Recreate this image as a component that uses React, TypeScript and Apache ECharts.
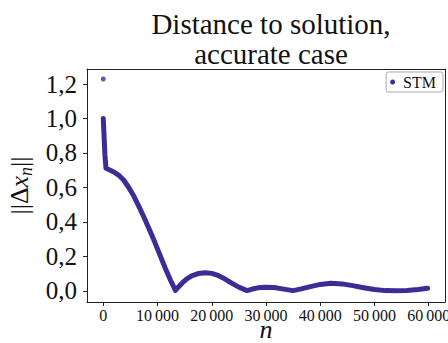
import React, { useEffect, useRef } from "react";
import * as echarts from "echarts";

const titleLines = ["Distance to solution,", "accurate case"];
const seriesName = "STM";
// iteration n and distance ||Δx_n||
const stepN = [
  0, 100, 200, 300, 500, 1000, 1950, 2900, 3790, 4700, 5625, 6540, 7460, 8400,
  9300, 10400, 11450, 12400, 13300, 13900, 14600, 15400, 16300, 17500, 18800,
  20000, 21000, 22000, 23000, 24000, 25000, 26500, 27500, 28500, 30000, 31500,
  33000, 35000, 36500, 38000, 40000, 42000, 44000, 46000, 48000, 50000, 52000,
  54000, 56000, 58000, 59800,
];
const distance = [
  1.0, 0.93, 0.86, 0.79, 0.711, 0.704, 0.69, 0.67, 0.642, 0.6, 0.55, 0.492,
  0.43, 0.364, 0.298, 0.212, 0.13, 0.062, 0.003, 0.025, 0.048, 0.07, 0.088,
  0.101, 0.106, 0.102, 0.092, 0.077, 0.058, 0.04, 0.022, 0.002, 0.011, 0.018,
  0.021, 0.02, 0.012, 0.002, 0.012, 0.024, 0.038, 0.045, 0.041, 0.031, 0.019,
  0.008, 0.002, 0.001, 0.003, 0.009, 0.016,
];
const outlierN = [0];
const outlierDistance = [1.229];
const xTicks = [0, 10000, 20000, 30000, 40000, 50000, 60000];
const yTicks = [0, 0.2, 0.4, 0.6, 0.8, 1.0, 1.2];

const COLOR = "#3a2e96";
const FONT = "'Liberation Serif', 'Times New Roman', serif";
const INK = "#111";
const SPINE = "#222";

export default function App() {
  const ref = useRef<HTMLDivElement>(null);
  useEffect(() => {
    if (!ref.current) return;
    const chart = echarts.init(ref.current, null, { renderer: "svg" });
    const fmtX = (v: number) =>
      String(Math.round(v)).replace(/\B(?=(\d{3})+(?!\d))/g, "\u2009");
    const fmtY = (v: number) => v.toFixed(1).replace(".", ",");
    const xMin = -3000;
    const xMax = 63000;
    const yMin = -0.064;
    const yMax = 1.287;
    const spineOnly = {
      axisLine: { show: true, onZero: false, lineStyle: { color: SPINE, width: 1 } },
      axisTick: { show: false },
      axisLabel: { show: false },
      splitLine: { show: false },
    };
    chart.setOption({
      animation: false,
      backgroundColor: "#fff",
      title: {
        text: titleLines.join("\n"),
        left: 266,
        top: 4,
        textAlign: "center",
        textStyle: {
          fontFamily: FONT,
          fontSize: 29,
          fontWeight: "normal",
          color: INK,
          lineHeight: 30,
        },
      },
      legend: {
        data: [seriesName],
        right: 5,
        top: 72,
        orient: "horizontal",
        icon: "circle",
        itemWidth: 5,
        itemHeight: 5,
        padding: [2, 7, 2, 4],
        borderColor: "#aaa",
        borderWidth: 1,
        borderRadius: 2,
        backgroundColor: "#fff",
        textStyle: {
          fontFamily: FONT,
          fontSize: 16,
          color: INK,
          padding: [0, 0, 0, 3],
        },
      },
      grid: {
        left: 87,
        right: 3,
        top: 69,
        bottom: 41,
        containLabel: false,
        outerBoundsMode: "none",
      },
      xAxis: [
        {
          type: "value",
          min: xMin,
          max: xMax,
          position: "bottom",
          name: "n",
          nameLocation: "middle",
          nameGap: 22,
          nameMoveOverlap: false,
          nameTextStyle: {
            fontFamily: FONT,
            fontSize: 26,
            fontStyle: "italic",
            color: INK,
            lineHeight: 10,
          },
          axisLine: { show: true, onZero: false, lineStyle: { color: SPINE, width: 1 } },
          splitLine: { show: false },
          axisTick: {
            show: true,
            length: 4,
            customValues: xTicks,
            lineStyle: { color: SPINE },
          },
          axisLabel: {
            customValues: xTicks,
            formatter: fmtX,
            fontFamily: FONT,
            fontSize: 16,
            lineHeight: 12,
            color: INK,
            margin: 7,
            hideOverlap: false,
          },
        },
        { type: "value", min: xMin, max: xMax, position: "top", ...spineOnly },
      ],
      yAxis: [
        {
          type: "value",
          min: yMin,
          max: yMax,
          position: "left",
          name: "{b|||Δ}{i|x}{s|n}{b|||}",
          nameLocation: "middle",
          nameRotate: 90,
          nameGap: 52,
          nameTextStyle: {
            rich: {
              b: { fontFamily: FONT, fontSize: 26, color: INK, lineHeight: 30 },
              i: {
                fontFamily: FONT,
                fontSize: 26,
                fontStyle: "italic",
                color: INK,
                lineHeight: 30,
              },
              s: {
                fontFamily: FONT,
                fontSize: 18,
                fontStyle: "italic",
                color: INK,
                lineHeight: 14,
                verticalAlign: "bottom",
              },
            },
          },
          axisLine: { show: true, onZero: false, lineStyle: { color: SPINE, width: 1 } },
          splitLine: { show: false },
          axisTick: {
            show: true,
            length: 4,
            customValues: yTicks,
            lineStyle: { color: SPINE },
          },
          axisLabel: {
            customValues: yTicks,
            formatter: fmtY,
            fontFamily: FONT,
            fontSize: 25,
            color: INK,
            margin: 10,
          },
        },
        { type: "value", min: yMin, max: yMax, position: "right", ...spineOnly },
      ],
      series: [
        {
          name: seriesName,
          type: "line",
          data: stepN.map((n, i) => [n, distance[i]]),
          showSymbol: false,
          symbol: "circle",
          color: COLOR,
          lineStyle: { width: 5, color: COLOR, cap: "round", join: "round" },
          smooth: false,
        },
        {
          name: seriesName,
          type: "scatter",
          data: outlierN.map((n, i) => [n, outlierDistance[i]]),
          symbol: "circle",
          symbolSize: 5,
          itemStyle: { color: COLOR },
        },
      ],
    });
    return () => chart.dispose();
  }, []);
  return (
    <div style={{ position: "fixed", left: 0, top: 0 }}>
      <div ref={ref} style={{ width: 448, height: 343 }} />
    </div>
  );
}
